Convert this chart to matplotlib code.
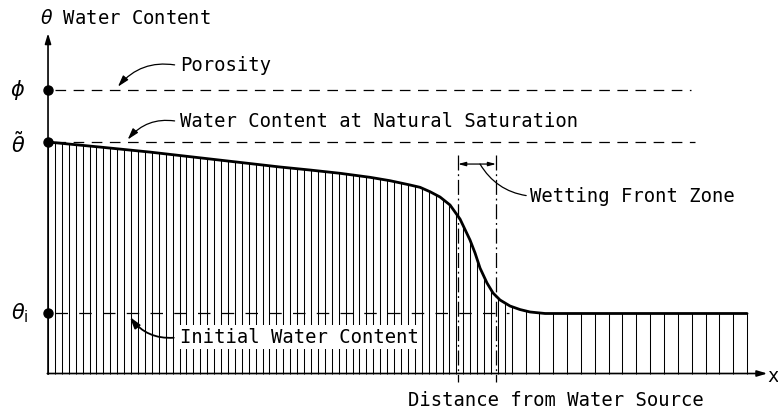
import numpy as np
import matplotlib
matplotlib.use("Agg")
import matplotlib.pyplot as plt

# ---- data (schematic values) ----
phi = 0.45          # porosity
theta_sat = 0.368   # water content at natural saturation
theta_i = 0.0954    # initial water content
x_end = 10.0
curve_x = [0.0, 0.744, 1.459, 3.319, 3.748, 4.177, 4.607, 4.893, 5.179, 5.322, 5.465,
           5.608, 5.751, 5.894, 6.037, 6.109, 6.180, 6.280, 6.366, 6.466, 6.609,
           6.752, 6.896, 7.110, 10.0]
curve_theta = [0.368, 0.360, 0.352, 0.3283, 0.3235, 0.3183, 0.3119, 0.3065, 0.2997, 0.2960,
               0.2890, 0.2806, 0.2679, 0.2456, 0.2122, 0.1916, 0.1677, 0.1439, 0.1280,
               0.1169, 0.1073, 0.1017, 0.0978, 0.0954, 0.0954]
front_left, front_right = 5.865, 6.41
n_hatch = 101
dense_until = 67

fig = plt.figure(figsize=(7.78, 4.12), dpi=100)
ax = fig.add_axes([0, 0, 1, 1])
ax.set_xlim(-0.687, 10.443)
ax.set_ylim(-0.0612, 0.5938)
ax.axis("off")

fs = 13.6
txt = dict(fontsize=fs, color="black", family="DejaVu Sans Mono")

# hatch lines below the curve
k = np.arange(n_hatch + 1)
keep = (k <= dense_until) | ((k - dense_until) % 2 == 0)
hx = k[keep] * x_end / n_hatch
hy = np.interp(hx, curve_x, curve_theta)
ax.vlines(hx, 0, hy, color="black", lw=0.75)

# curve
ax.plot(curve_x, curve_theta, color="black", lw=2.0, solid_capstyle="round",
        solid_joinstyle="round")

# dashed reference lines
ax.plot([0.1, 9.2], [phi, phi], color="black", lw=0.9, dashes=(8.5, 6))
ax.plot([0.1, 9.25], [theta_sat, theta_sat], color="black", lw=0.9, dashes=(8.5, 6))
ax.plot([0.1, 6.6], [theta_i, theta_i], color="black", lw=0.9, dashes=(10, 9))

# axes with arrows
ax.annotate("", xy=(0, 0.541), xytext=(0, -0.001),
            arrowprops=dict(arrowstyle="-|>,head_length=0.6,head_width=0.18", color="black", lw=1.2,
                            shrinkA=0, shrinkB=0))
ax.annotate("", xy=(10.29, 0), xytext=(-0.01, 0),
            arrowprops=dict(arrowstyle="-|>,head_length=0.6,head_width=0.18", color="black", lw=1.2,
                            shrinkA=0, shrinkB=0))

# dots on the y axis
ax.plot([0, 0, 0], [phi, theta_sat, theta_i], "o", color="black", ms=6.5)

# wetting front zone lines
for xv in (front_left, front_right):
    ax.plot([xv, xv], [0.347, -0.013], color="black", lw=0.9, dashes=(12, 3, 1.5, 3))
ax.annotate("", xy=(front_left, 0.333), xytext=(front_right, 0.333),
            arrowprops=dict(arrowstyle="<|-|>,head_length=0.45,head_width=0.12", color="black",
                            lw=0.9, shrinkA=0, shrinkB=0))
ax.annotate("Wetting Front Zone", xy=(6.18, 0.333), xytext=(6.90, 0.282),
            ha="left", va="center", **txt,
            arrowprops=dict(arrowstyle="-", color="black", lw=0.9, shrinkA=1, shrinkB=0,
                            relpos=(0, 0.5), connectionstyle="arc3,rad=-0.25"))

# labels with leaders
ax.annotate("Porosity", xy=(1.0, 0.456), xytext=(1.89, 0.489), ha="left", va="center", **txt,
            arrowprops=dict(arrowstyle="-|>,head_length=0.5,head_width=0.15", color="black", lw=0.9,
                            shrinkA=2, shrinkB=0, relpos=(0, 0.5),
                            connectionstyle="arc3,rad=0.3"))
ax.annotate("Water Content at Natural Saturation", xy=(1.14, 0.372), xytext=(1.89, 0.400),
            ha="left", va="center", **txt,
            arrowprops=dict(arrowstyle="-|>,head_length=0.5,head_width=0.15", color="black", lw=0.9,
                            shrinkA=2, shrinkB=0, relpos=(0, 0.5),
                            connectionstyle="arc3,rad=0.3"))
ax.annotate("Initial Water Content", xy=(1.17, 0.090), xytext=(1.89, 0.058),
            ha="left", va="center", **txt,
            bbox=dict(boxstyle="square,pad=0.12", fc="white", ec="none"),
            arrowprops=dict(arrowstyle="-|>,head_length=0.5,head_width=0.15", color="black", lw=1.3,
                            shrinkA=3, shrinkB=0, relpos=(0, 0.5),
                            connectionstyle="arc3,rad=-0.3"))

# axis labels
ax.text(-0.114, 0.565, r"$\theta$ Water Content", ha="left", va="center", **txt)
ax.text(7.27, -0.043, "Distance from Water Source", ha="center", va="center", **txt)
ax.text(10.37, -0.004, "x", ha="center", va="center", **txt)
ax.text(-0.43, phi, r"$\phi$", ha="center", va="center", fontsize=15)
ax.text(-0.43, theta_sat - 0.004, r"$\tilde{\theta}$", ha="center", va="center", fontsize=15)
ax.text(-0.40, theta_i, r"$\theta_{\rm i}$", ha="center", va="center", fontsize=15)

fig.savefig("out.png", dpi=100, facecolor="white")
